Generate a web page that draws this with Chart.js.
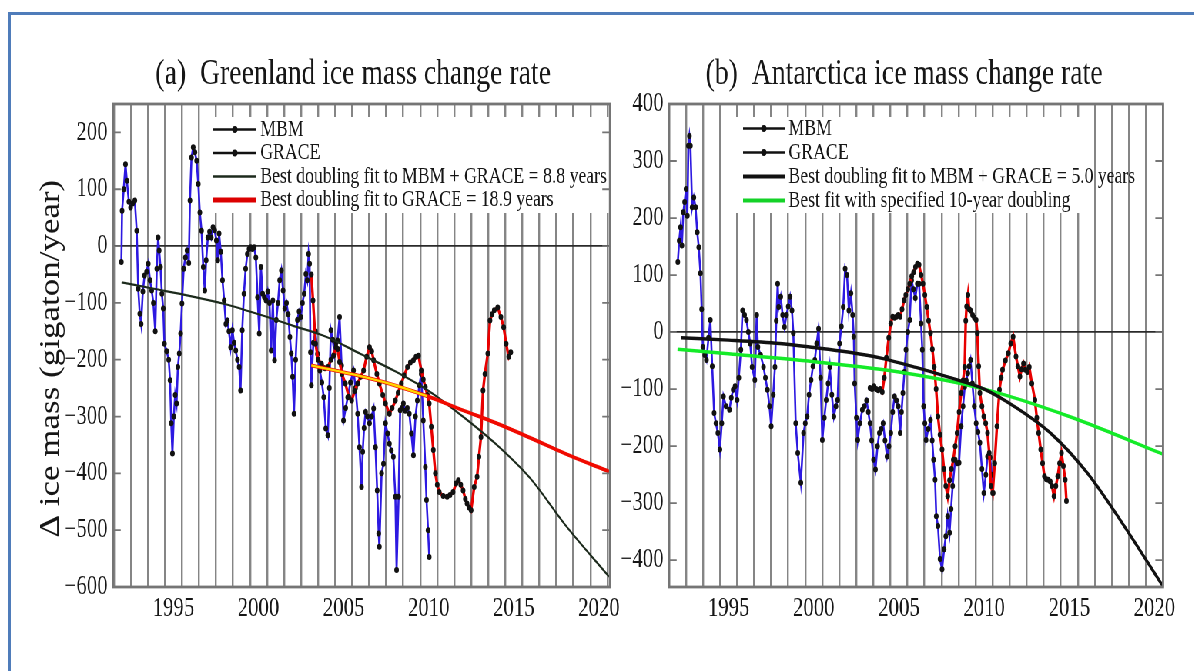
<!DOCTYPE html>
<html>
<head>
<meta charset="utf-8">
<script src="https://cdn.jsdelivr.net/npm/chart.js@4.4.1/dist/chart.umd.min.js"></script>
<style>
html, body { margin: 0; padding: 0; background: #fff; overflow: hidden; }
#page { position: relative; width: 1194px; height: 671px; overflow: hidden; }
#frame { position: absolute; left: 8px; top: 12px; width: 1300px; height: 800px;
         border-left: 3px solid #4f7cba; border-top: 3px solid #4f7cba; }
/* the source picture is squeezed sideways, so draw wide and squeeze */
#squeeze { position: absolute; left: 0; top: 0; width: 1551px; height: 671px;
           transform: scaleX(0.77); transform-origin: 0 0; }
#ca { position: absolute; left: 0; top: 0; }
#cb { position: absolute; left: 797px; top: 0; }
</style>
</head>
<body>
<div id="page">
  <div id="frame"></div>
  <div id="squeeze">
    <canvas id="ca" width="831" height="671"></canvas>
    <canvas id="cb" width="753" height="671"></canvas>
  </div>
</div>
<script>
// ---- data: [year, gigaton/year] ----
const xLabels = [1995, 2000, 2005, 2010, 2015, 2020];
const gridYears = [1991.5,1992.5,1993.5,1994.5,1995.5,1996.5,1997.5,1998.5,1999.5,2000.5,2001.5,2002.5,2003.5,2004.5,2005.5,2006.5,2007.5,2008.5,2009.5,2010.5,2011.5,2012.5,2013.5,2014.5,2015.5,2016.5,2017.5,2018.5,2019.5,2020.5];
const yTicksA = [200, 100, 0, -100, -200, -300, -400, -500, -600];
const yTicksB = [400, 300, 200, 100, 0, -100, -200, -300, -400];

// Greenland
const grMbm = [[1991.94,-28],[1991.98,62],[1992.08,100],[1992.18,144],[1992.26,115],[1992.38,78],[1992.48,68],[1992.6,75],[1992.73,80],[1992.84,27],[1992.93,-75],[1993.02,-119],[1993.1,-137],[1993.2,-80],[1993.3,-52],[1993.42,-45],[1993.52,-31],[1993.62,-60],[1993.72,-78],[1993.82,-100],[1993.93,-150],[1994.02,-40],[1994.1,15],[1994.16,-8],[1994.24,-37],[1994.32,-84],[1994.4,-110],[1994.47,-172],[1994.6,-185],[1994.72,-200],[1994.8,-236],[1994.87,-312],[1994.94,-365],[1995.02,-300],[1995.1,-262],[1995.18,-277],[1995.26,-213],[1995.34,-189],[1995.42,-154],[1995.5,-101],[1995.6,-40],[1995.7,-20],[1995.8,-8],[1995.9,-30],[1995.97,80],[1996.06,156],[1996.16,174],[1996.26,165],[1996.36,150],[1996.46,109],[1996.55,59],[1996.65,27],[1996.75,-37],[1996.84,-78],[1996.92,-25],[1997.02,15],[1997.12,25],[1997.22,15],[1997.32,33],[1997.42,28],[1997.52,10],[1997.6,-25],[1997.68,22],[1997.78,-10],[1997.88,-60],[1997.98,-96],[1998.08,-137],[1998.16,-131],[1998.26,-150],[1998.36,-178],[1998.46,-148],[1998.56,-170],[1998.66,-184],[1998.76,-200],[1998.86,-213],[1998.94,-254],[1999.04,-148],[1999.14,-84],[1999.24,-40],[1999.34,-14],[1999.44,-5],[1999.54,-2],[1999.64,-5],[1999.74,-2],[1999.84,-20],[1999.94,-90],[2000.04,-154],[2000.14,-37],[2000.24,-84],[2000.34,-90],[2000.44,-96],[2000.54,-80],[2000.64,-100],[2000.74,-184],[2000.84,-96],[2000.94,-201],[2001.04,-130],[2001.14,-100],[2001.24,-60],[2001.34,-43],[2001.44,-78],[2001.54,-110],[2001.64,-100],[2001.74,-120],[2001.84,-160],[2001.92,-189],[2002.0,-230],[2002.08,-295],[2002.18,-200],[2002.28,-130],[2002.38,-115],[2002.48,-125],[2002.58,-100],[2002.68,-84],[2002.78,-49],[2002.86,-60],[2002.94,-14],[2003.0,-31],[2003.05,-187],[2003.1,-245],[2003.22,-170],[2003.34,-150],[2003.46,-190],[2003.6,-219],[2003.72,-240],[2003.83,-266],[2003.95,-321],[2004.07,-333],[2004.16,-250],[2004.25,-148],[2004.36,-165],[2004.46,-190],[2004.55,-170],[2004.64,-166],[2004.76,-125],[2004.88,-210],[2004.99,-307],[2005.12,-285],[2005.24,-266],[2005.4,-240],[2005.58,-219],[2005.7,-250],[2005.82,-295],[2005.93,-354],[2006.05,-424],[2006.12,-362],[2006.2,-320],[2006.29,-292],[2006.4,-300],[2006.52,-312],[2006.64,-300],[2006.76,-286],[2006.87,-354],[2006.97,-430],[2007.06,-506],[2007.1,-529],[2007.23,-400],[2007.34,-383],[2007.46,-312],[2007.58,-330],[2007.69,-348],[2007.8,-360],[2007.92,-371],[2008.04,-441],[2008.11,-570],[2008.23,-441],[2008.32,-289],[2008.42,-285],[2008.51,-277],[2008.62,-290],[2008.74,-285],[2008.86,-295],[2008.98,-330],[2009.1,-368],[2009.22,-300],[2009.33,-272],[2009.45,-245],[2009.56,-225],[2009.68,-307],[2009.8,-389],[2009.87,-447],[2009.96,-500],[2010.03,-547]];
const grGrace = [[2003.1,-50],[2003.2,-96],[2003.35,-172],[2003.5,-200],[2003.7,-207],[2003.9,-215],[2004.07,-213],[2004.25,-200],[2004.4,-193],[2004.55,-178],[2004.65,-181],[2004.76,-204],[2004.9,-225],[2005.1,-242],[2005.3,-265],[2005.47,-272],[2005.65,-255],[2005.82,-242],[2006.0,-230],[2006.17,-219],[2006.35,-195],[2006.52,-178],[2006.65,-185],[2006.76,-201],[2006.95,-225],[2007.1,-242],[2007.3,-262],[2007.46,-277],[2007.69,-295],[2007.85,-285],[2008.04,-272],[2008.2,-258],[2008.39,-242],[2008.55,-228],[2008.75,-213],[2008.92,-205],[2009.1,-201],[2009.25,-195],[2009.4,-193],[2009.56,-219],[2009.68,-235],[2009.8,-248],[2009.92,-262],[2010.03,-277],[2010.15,-318],[2010.27,-359],[2010.39,-400],[2010.5,-420],[2010.62,-433],[2010.85,-440],[2011.08,-441],[2011.25,-438],[2011.43,-433],[2011.6,-418],[2011.74,-412],[2011.88,-420],[2012.02,-430],[2012.15,-445],[2012.25,-453],[2012.37,-460],[2012.49,-465],[2012.67,-424],[2012.84,-406],[2012.95,-371],[2013.07,-336],[2013.19,-254],[2013.3,-225],[2013.47,-189],[2013.6,-131],[2013.72,-120],[2013.85,-113],[2014.05,-108],[2014.24,-125],[2014.4,-143],[2014.55,-172],[2014.7,-195],[2014.82,-187]];
const grFitAll = [[1991.95,-64],[1994,-76],[1996,-88],[1998,-102],[2000,-120],[2002,-140],[2004,-160],[2006,-190],[2008,-220],[2010,-255],[2012,-300],[2014,-350],[2016,-410],[2018,-490],[2020.6,-582]];
const grFitGrace = [[2003.1,-210],[2006,-229],[2008,-245],[2010,-265],[2012,-289],[2014,-312],[2016,-338],[2018,-365],[2020.6,-397]];
const grFitGraceSpan = [[2003.1,-210],[2006,-229],[2008,-245],[2009.9,-264]];

// Antarctica
const anMbm = [[1992.02,123],[1992.1,160],[1992.18,184],[1992.26,152],[1992.34,210],[1992.42,228],[1992.5,251],[1992.58,204],[1992.64,327],[1992.7,344],[1992.76,327],[1992.86,219],[1992.96,236],[1993.06,219],[1993.16,175],[1993.25,149],[1993.35,103],[1993.42,40],[1993.49,-26],[1993.6,-40],[1993.7,-49],[1993.82,-10],[1993.93,21],[1994.04,-60],[1994.15,-142],[1994.26,-160],[1994.37,-177],[1994.49,-206],[1994.6,-160],[1994.7,-113],[1994.85,-130],[1995.05,-136],[1995.16,-115],[1995.27,-101],[1995.38,-95],[1995.5,-119],[1995.6,-80],[1995.72,-31],[1995.82,38],[1995.94,30],[1996.05,21],[1996.16,0],[1996.27,-20],[1996.38,-61],[1996.54,-84],[1996.65,30],[1996.72,-26],[1996.88,-40],[1997.05,-61],[1997.16,-80],[1997.28,-101],[1997.4,-130],[1997.5,-165],[1997.62,-110],[1997.72,-61],[1997.8,20],[1997.88,85],[1997.94,44],[1998.06,62],[1998.17,30],[1998.28,9],[1998.4,30],[1998.5,45],[1998.61,62],[1998.72,38],[1998.8,-2],[1998.94,-160],[1999.06,-212],[1999.24,-264],[1999.4,-177],[1999.5,-160],[1999.61,-148],[1999.72,-110],[1999.84,-84],[1999.95,-60],[2000.06,-49],[2000.17,-20],[2000.28,6],[2000.4,-80],[2000.5,-189],[2000.62,-150],[2000.73,-119],[2000.84,-90],[2000.94,-61],[2001.06,-110],[2001.18,-148],[2001.3,-130],[2001.4,-119],[2001.51,-20],[2001.62,10],[2001.73,44],[2001.84,111],[2001.95,100],[2002.06,38],[2002.18,68],[2002.28,30],[2002.35,-8],[2002.4,-90],[2002.5,-150],[2002.58,-189],[2002.7,-160],[2002.85,-136],[2002.97,-130],[2003.1,-120],[2003.2,-140],[2003.3,-160],[2003.4,-190],[2003.51,-224],[2003.62,-241],[2003.74,-200],[2003.85,-177],[2003.96,-170],[2004.07,-160],[2004.18,-190],[2004.3,-218],[2004.41,-200],[2004.52,-177],[2004.63,-140],[2004.74,-113],[2004.85,-120],[2004.96,-130],[2005.07,-177],[2005.15,-140],[2005.23,-107],[2005.32,-70],[2005.41,-31],[2005.52,0],[2005.63,21],[2005.74,91],[2005.85,75],[2005.96,60],[2006.08,85],[2006.18,85],[2006.3,15],[2006.37,-31],[2006.45,-130],[2006.52,-160],[2006.59,-189],[2006.72,-170],[2006.85,-154],[2006.95,-190],[2007.03,-224],[2007.12,-259],[2007.19,-323],[2007.29,-340],[2007.41,-398],[2007.53,-416],[2007.65,-381],[2007.75,-358],[2007.86,-323],[2007.97,-352],[2008.06,-310],[2008.15,-270],[2008.3,-224],[2008.42,-230],[2008.53,-229],[2008.65,-165],[2008.76,-130],[2008.86,-96],[2008.95,-85],[2009.04,-72],[2009.12,-60],[2009.2,-49],[2009.31,-90],[2009.42,-130],[2009.53,-160],[2009.64,-175],[2009.75,-194],[2009.87,-240],[2009.98,-282],[2010.1,-250],[2010.2,-218],[2010.35,-220],[2010.45,-250],[2010.53,-282]];
const anGrace = [[2003.3,-98],[2003.42,-100],[2003.54,-95],[2003.66,-100],[2003.78,-102],[2003.9,-100],[2004.02,-105],[2004.14,-80],[2004.26,-45],[2004.4,-10],[2004.52,15],[2004.63,27],[2004.74,25],[2004.85,27],[2004.96,30],[2005.07,27],[2005.18,40],[2005.3,56],[2005.4,65],[2005.52,75],[2005.63,85],[2005.75,98],[2005.86,105],[2005.97,114],[2006.08,120],[2006.18,118],[2006.3,100],[2006.41,85],[2006.52,65],[2006.63,44],[2006.74,20],[2006.85,-2],[2006.96,-30],[2007.07,-61],[2007.18,-100],[2007.29,-148],[2007.41,-180],[2007.53,-206],[2007.64,-240],[2007.75,-270],[2007.86,-288],[2007.97,-260],[2008.08,-240],[2008.19,-224],[2008.3,-200],[2008.41,-177],[2008.53,-140],[2008.65,-107],[2008.76,-85],[2008.86,-61],[2008.92,20],[2008.97,45],[2009.05,65],[2009.12,40],[2009.2,38],[2009.32,30],[2009.42,25],[2009.53,21],[2009.6,-2],[2009.68,-60],[2009.75,-107],[2009.87,-130],[2009.98,-148],[2010.09,-160],[2010.2,-177],[2010.3,-212],[2010.4,-270],[2010.5,-282],[2010.62,-230],[2010.75,-165],[2010.9,-101],[2011.0,-80],[2011.08,-66],[2011.25,-50],[2011.42,-37],[2011.56,-20],[2011.7,-8],[2011.87,-43],[2011.98,-60],[2012.1,-78],[2012.2,-65],[2012.31,-55],[2012.42,-66],[2012.54,-70],[2012.65,-61],[2012.8,-90],[2012.98,-119],[2013.09,-150],[2013.2,-177],[2013.32,-206],[2013.43,-230],[2013.54,-253],[2013.65,-258],[2013.76,-259],[2013.88,-262],[2013.98,-270],[2014.1,-288],[2014.21,-270],[2014.32,-253],[2014.43,-230],[2014.54,-212],[2014.65,-235],[2014.76,-259],[2014.83,-296]];
const anFitAll = [[1992.2,-10],[1995,-14],[1998,-20],[2000,-27],[2002,-35],[2004,-46],[2006,-62],[2008,-80],[2010,-100],[2012,-135],[2014,-180],[2016,-245],[2018,-330],[2020.5,-446]];
const anFit10 = [[1992.0,-30],[1995,-38],[2000,-52],[2005,-70],[2010,-100],[2015,-148],[2020.5,-214]];

// ---- drawing ----
const SERIF = "'Liberation Serif', 'DejaVu Serif', serif";
const INK = '#161616';
Chart.defaults.font.family = SERIF;
Chart.defaults.color = INK;

function pts(list) {
  return list.map(p => ({ x: p[0], y: p[1] }));
}
function fmt(v) {
  return v < 0 ? '\u2212' + Math.abs(v) : String(v);
}

function dataSet(list, color, width, order) {
  return {
    data: pts(list), borderColor: color, borderWidth: width,
    pointRadius: 3, pointBackgroundColor: '#111', pointBorderWidth: 0,
    tension: 0, order: order
  };
}
function fitSet(list, color, width, order) {
  return {
    data: pts(list), borderColor: color, borderWidth: width,
    pointRadius: 0, cubicInterpolationMode: 'monotone', order: order
  };
}

// white box with the key, drawn inside the plot over the grid
function keyPlugin(k) {
  return {
    id: 'insideKey',
    beforeDatasetsDraw(chart) {
      const c = chart.ctx;
      c.save();
      c.fillStyle = '#fff';
      c.fillRect(k.box[0], k.box[1], k.box[2], k.box[3]);
      c.font = '23px ' + SERIF;
      c.textBaseline = 'middle';
      k.items.forEach((it, i) => {
        const y = k.y0 + i * k.dy;
        c.strokeStyle = it.color;
        c.lineWidth = it.width;
        c.beginPath(); c.moveTo(k.x0, y); c.lineTo(k.x1, y); c.stroke();
        if (it.dot) {
          c.fillStyle = '#111';
          c.beginPath(); c.arc((k.x0 + k.x1) / 2, y, 3.4, 0, 2 * Math.PI); c.fill();
        }
        c.fillStyle = INK;
        c.fillText(it.text, k.x1 + 5, y);
      });
      c.restore();
    }
  };
}

// plot frame with inward tick marks on both sides
function framePlugin(yTicks) {
  return {
    id: 'frame',
    afterDatasetsDraw(chart) {
      const c = chart.ctx, a = chart.chartArea, ys = chart.scales.y;
      c.save();
      c.strokeStyle = '#757575';
      c.lineWidth = 2.8;
      c.strokeRect(a.left, a.top, a.right - a.left, a.bottom - a.top);
      c.lineWidth = 1.8;
      c.beginPath();
      yTicks.forEach(v => {
        const y = ys.getPixelForValue(v);
        c.moveTo(a.left, y); c.lineTo(a.left + 10, y);
        c.moveTo(a.right, y); c.lineTo(a.right - 10, y);
      });
      c.stroke();
      c.restore();
    }
  };
}

function panelOptions(p) {
  return {
    responsive: false,
    animation: false,
    events: [],
    layout: { padding: { left: p.padLeft, right: p.padRight, top: 0, bottom: 0 } },
    plugins: {
      legend: { display: false },
      tooltip: { enabled: false },
      title: {
        display: true, text: p.title, color: INK,
        font: { family: SERIF, size: 36, weight: 'normal' },
        padding: { top: 53.4, bottom: 7.4 }
      }
    },
    scales: {
      x: {
        type: 'linear', min: p.xMin, max: p.xMax,
        afterBuildTicks: s => {
          s.ticks = gridYears.concat(xLabels).sort((a, b) => a - b).map(v => ({ value: v }));
        },
        afterFit: s => { s.height = 84; },
        border: { display: false },
        grid: {
          drawTicks: false, lineWidth: 2.4,
          color: ctx => (ctx.tick && xLabels.includes(ctx.tick.value)) ? 'rgba(0,0,0,0)' : '#858585'
        },
        ticks: {
          autoSkip: false, maxRotation: 0, padding: 6, color: INK,
          font: { family: SERIF, size: 27 },
          callback: v => xLabels.includes(v) ? String(v) : ''
        }
      },
      y: {
        min: p.yMin, max: p.yMax,
        afterBuildTicks: s => { s.ticks = p.yTicks.map(v => ({ value: v })); },
        afterFit: s => { s.width = p.yWidth; },
        border: { display: false },
        grid: {
          drawTicks: false, lineWidth: 1.8,
          color: ctx => (ctx.tick && ctx.tick.value === 0) ? '#2a2a2a' : 'rgba(0,0,0,0)'
        },
        ticks: {
          padding: 7, color: INK,
          font: { family: SERIF, size: 27 },
          callback: v => fmt(v)
        },
        title: p.yTitle ? {
          display: true, text: p.yTitle, color: INK,
          font: { family: SERIF, size: 35 },
          padding: { top: p.yTitlePad, bottom: 0 }
        } : { display: false }
      }
    }
  };
}

// (a) Greenland
new Chart(document.getElementById('ca'), {
  type: 'line',
  data: {
    datasets: [
      dataSet(grMbm, 'rgb(45,25,225)', 2.6, 5),
      dataSet(grGrace, 'rgb(232,0,0)', 3.4, 4),
      fitSet(grFitAll, '#1c2a1c', 2.2, 3),
      fitSet(grFitGrace, 'rgb(240,10,0)', 3.8, 2),
      fitSet(grFitGraceSpan, 'rgb(255,214,0)', 2.4, 1)
    ]
  },
  options: panelOptions({
    // leading spaces push the centred title right, as in the source
    title: '     (a)  Greenland ice mass change rate',
    xMin: 1991.45, xMax: 2020.65, yMin: -600, yMax: 250,
    yTicks: yTicksA, padLeft: 80, yWidth: 66.8, padRight: 38.8,
    // trailing spaces nudge the rotated label down like the source
    yTitle: '\u0394 ice mass (gigaton/year)   ', yTitlePad: -34.2
  }),
  plugins: [
    keyPlugin({
      box: [266, 117, 526, 96], x0: 277, x1: 333, y0: 129.5, dy: 23.5,
      items: [
        { text: 'MBM', color: '#111', width: 2.4, dot: true },
        { text: 'GRACE', color: '#111', width: 2.4, dot: true },
        { text: 'Best doubling fit to MBM + GRACE = 8.8 years', color: '#1c2a1c', width: 2.4 },
        { text: 'Best doubling fit to GRACE = 18.9 years', color: 'rgb(220,0,0)', width: 5 }
      ]
    }),
    framePlugin(yTicksA)
  ]
});

// (b) Antarctica
new Chart(document.getElementById('cb'), {
  type: 'line',
  data: {
    datasets: [
      dataSet(anMbm, 'rgb(45,25,225)', 2.6, 5),
      dataSet(anGrace, 'rgb(232,0,0)', 3.4, 4),
      fitSet(anFitAll, '#111', 3.4, 2),
      fitSet(anFit10, 'rgb(20,235,40)', 3.4, 3)
    ]
  },
  options: panelOptions({
    title: '    (b)  Antarctica ice mass change rate',
    xMin: 1991.5, xMax: 2020.5, yMin: -447, yMax: 400,
    yTicks: yTicksB, padLeft: 5, yWidth: 66.8, padRight: 39.6,
    yTitle: null
  }),
  plugins: [
    keyPlugin({
      box: [144, 117, 470, 96], x0: 168, x1: 222, y0: 128.5, dy: 24,
      items: [
        { text: 'MBM', color: '#111', width: 2.4, dot: true },
        { text: 'GRACE', color: '#111', width: 2.4, dot: true },
        { text: 'Best doubling fit to MBM + GRACE = 5.0 years', color: '#111', width: 3.8 },
        { text: 'Best fit with specified 10-year doubling', color: 'rgb(20,210,40)', width: 4 }
      ]
    }),
    framePlugin(yTicksB)
  ]
});
</script>
</body>
</html>
